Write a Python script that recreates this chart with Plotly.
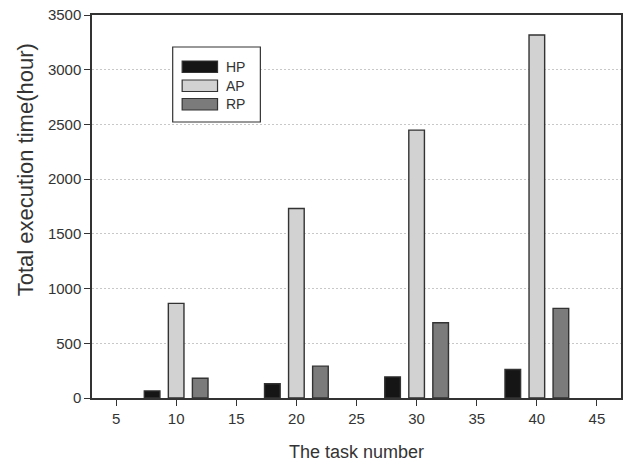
import plotly.graph_objects as go

task_numbers = [10, 20, 30, 40]
hp_values = [65, 130, 193, 261]
ap_values = [865, 1732, 2448, 3317]
rp_values = [180, 291, 687, 819]
series_names = ["HP", "AP", "RP"]
series_colors = ["#151515", "#d2d2d2", "#7b7b7b"]
x_ticks = [5, 10, 15, 20, 25, 30, 35, 40, 45]
y_ticks = [0, 500, 1000, 1500, 2000, 2500, 3000, 3500]

FONT = "Liberation Sans, Arial, sans-serif"
W, H = 629, 465
ML, MR, MT, MB = 92, 6, 15, 67
PW, PH = W - ML - MR, H - MT - MB

def px_x(p):
    return (p - ML) / PW

def px_y(p):
    return (H - MB - p) / PH

fig = go.Figure()
offsets = [-2.65, -0.65, 1.35]
for name, vals, col, off in zip(series_names, [hp_values, ap_values, rp_values], series_colors, offsets):
    fig.add_trace(go.Bar(
        x=task_numbers, y=vals, name=name, width=1.3, offset=off,
        marker=dict(color=col, line=dict(color="#333333", width=1.4)),
        showlegend=False,
    ))

# custom legend (box, swatches, labels)
fig.add_shape(type="rect", xref="paper", yref="paper",
              x0=px_x(173), x1=px_x(261), y0=px_y(122), y1=px_y(47),
              line=dict(color="#333333", width=1.2), fillcolor="white", layer="above")
sw_top = [61, 80, 98.5]
for name, col, t in zip(series_names, series_colors, sw_top):
    fig.add_shape(type="rect", xref="paper", yref="paper",
                  x0=px_x(182.5), x1=px_x(218), y0=px_y(t + 11.5), y1=px_y(t),
                  line=dict(color="#333333", width=1.2), fillcolor=col, layer="above")
    fig.add_annotation(xref="paper", yref="paper", x=px_x(225), y=px_y(t + 5.75),
                       text=name, showarrow=False, xanchor="left", yanchor="middle",
                       font=dict(family=FONT, size=14, color="#333333"))

fig.add_annotation(xref="paper", yref="paper", x=px_x(25), y=px_y(170),
                   text="Total execution time(hour)", textangle=-90, showarrow=False,
                   xanchor="center", yanchor="middle",
                   font=dict(family=FONT, size=22, color="#333333"))
fig.add_annotation(xref="paper", yref="paper", x=0.5, y=px_y(452),
                   text="The task number", showarrow=False,
                   xanchor="center", yanchor="middle",
                   font=dict(family=FONT, size=18, color="#333333"))

fig.update_layout(
    width=W, height=H,
    margin=dict(l=ML, r=MR, t=MT, b=MB),
    paper_bgcolor="white", plot_bgcolor="white",
    barmode="overlay",
    font=dict(family=FONT, size=15, color="#333333"),
    xaxis=dict(range=[3, 47], tickvals=x_ticks, ticks="outside", ticklen=6,
               tickcolor="#333333", tickwidth=1.2, showline=True, linecolor="#333333",
               linewidth=1.5, mirror=True, showgrid=False, zeroline=False,
               tickfont=dict(family=FONT, size=15, color="#333333")),
    yaxis=dict(range=[0, 3500], tickvals=y_ticks, ticks="outside", ticklen=6,
               tickcolor="#333333", tickwidth=1.2, showline=True, linecolor="#333333",
               linewidth=1.5, mirror=True, showgrid=True, gridcolor="#c8c8c8",
               griddash="2px,2px", gridwidth=1, zeroline=False,
               tickfont=dict(family=FONT, size=15, color="#333333")),
)

fig.write_html("out.html", config={"displayModeBar": False},
               post_script="document.body.style.margin='0';")
